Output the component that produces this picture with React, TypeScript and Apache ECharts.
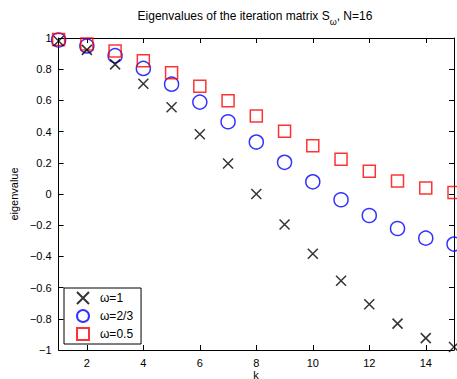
import React, { useEffect, useRef } from "react";
import * as echarts from "echarts";

const kValues = [1, 2, 3, 4, 5, 6, 7, 8, 9, 10, 11, 12, 13, 14, 15];
const omega1 = [0.981, 0.924, 0.831, 0.707, 0.556, 0.383, 0.195, 0.0, -0.195, -0.383, -0.556, -0.707, -0.831, -0.924, -0.981];
const omega23 = [0.987, 0.949, 0.887, 0.805, 0.704, 0.589, 0.463, 0.333, 0.203, 0.078, -0.037, -0.138, -0.221, -0.283, -0.321];
const omega05 = [0.99, 0.962, 0.916, 0.854, 0.778, 0.691, 0.598, 0.5, 0.402, 0.309, 0.222, 0.146, 0.084, 0.038, 0.01];
const xTicks = [2, 4, 6, 8, 10, 12, 14];
const seriesNames = ["ω=1", "ω=2/3", "ω=0.5"];

const FONT = "Liberation Sans, Arial, Helvetica, sans-serif";

export default function App() {
  const ref = useRef<HTMLDivElement>(null);
  useEffect(() => {
    if (!ref.current) return;
    const chart = echarts.init(ref.current, null, { renderer: "svg" });
    const pts = (ys: number[]) => kValues.map((k, i) => [k, ys[i]]);
    const fmtY = (v: number) => {
      const s = String(Math.round(v * 10) / 10);
      return s.replace("-", "\u2212");
    };
    const axisLine = { show: true, onZero: false, lineStyle: { color: "#000000", width: 1 } };
    chart.setOption({
      animation: false,
      backgroundColor: "#fff",
      textStyle: { fontFamily: FONT, color: "#000000" },
      grid: { left: 56, right: 3, top: 38, bottom: 29, containLabel: false },
      graphic: [
        {
          type: "text",
          x: 255,
          y: 10,
          style: {
            text: "{a|Eigenvalues of the iteration matrix S}{s|ω}{a|, N=16}",
            textAlign: "center",
            fill: "#000",
            rich: {
              a: { fontSize: 12, fontFamily: FONT, fill: "#000", lineHeight: 16, verticalAlign: "top" },
              s: { fontSize: 9, fontFamily: FONT, fill: "#000", padding: [7, 0, 0, 0], lineHeight: 16, verticalAlign: "top" },
            },
          },
        },
        {
          type: "text",
          x: 256,
          y: 369,
          style: { text: "k", textAlign: "center", fill: "#000000", fontSize: 11, fontFamily: FONT },
        },
      ],
      xAxis: [
        {
          type: "value",
          min: 1,
          max: 15,
          axisLine,
          splitLine: { show: false },
          axisTick: { show: true, inside: true, length: 5, lineStyle: { color: "#000" }, customValues: xTicks },
          axisLabel: { show: true, color: "#000", fontSize: 11, fontFamily: FONT, margin: 7, customValues: xTicks },
        },
        {
          type: "value",
          min: 1,
          max: 15,
          position: "top",
          axisLine,
          splitLine: { show: false },
          axisTick: { show: true, inside: true, length: 5, lineStyle: { color: "#000" }, customValues: xTicks },
          axisLabel: { show: false },
        },
      ],
      yAxis: [
        {
          type: "value",
          min: -1,
          max: 1,
          interval: 0.2,
          name: "eigenvalue",
          nameLocation: "middle",
          nameGap: 38,
          nameTextStyle: { fontSize: 11, color: "#000000", fontFamily: FONT },
          axisLine,
          splitLine: { show: false },
          axisTick: { show: true, inside: true, length: 5, lineStyle: { color: "#000" } },
          axisLabel: { show: true, color: "#000", fontSize: 11, fontFamily: FONT, margin: 7, formatter: fmtY },
        },
        {
          type: "value",
          min: -1,
          max: 1,
          interval: 0.2,
          position: "right",
          axisLine,
          splitLine: { show: false },
          axisTick: { show: true, inside: true, length: 5, lineStyle: { color: "#000" } },
          axisLabel: { show: false },
        },
      ],
      legend: {
        orient: "vertical",
        left: 64,
        top: 288,
        backgroundColor: "#fff",
        borderColor: "#000",
        borderWidth: 1,
        borderRadius: 0,
        padding: [3, 8, 3, 12],
        itemGap: 4,
        itemWidth: 12,
        itemHeight: 12,
        textStyle: { fontSize: 12, lineHeight: 14, color: "#000", fontFamily: FONT, padding: [0, 0, 0, 6] },
        data: seriesNames,
      },
      series: [
        {
          name: seriesNames[0],
          type: "scatter",
          clip: false,
          symbol: "path://M0,0L10,10M10,0L0,10",
          symbolSize: 10,
          itemStyle: { color: "rgba(0,0,0,0)", borderColor: "#000", borderWidth: 1.5 },
          data: pts(omega1),
          z: 3,
        },
        {
          name: seriesNames[1],
          type: "scatter",
          clip: false,
          symbol: "circle",
          symbolSize: 14,
          itemStyle: { color: "rgba(0,0,0,0)", borderColor: "#0000ff", borderWidth: 1.5 },
          data: pts(omega23),
          z: 2,
        },
        {
          name: seriesNames[2],
          type: "scatter",
          clip: false,
          symbol: "rect",
          symbolSize: 12,
          itemStyle: { color: "rgba(0,0,0,0)", borderColor: "#ff0000", borderWidth: 1.5 },
          data: pts(omega05),
          z: 2,
        },
      ],
    });
    return () => chart.dispose();
  }, []);
  return <div ref={ref} style={{ width: 457, height: 379, position: "absolute", left: 0, top: 0 }} />;
}
